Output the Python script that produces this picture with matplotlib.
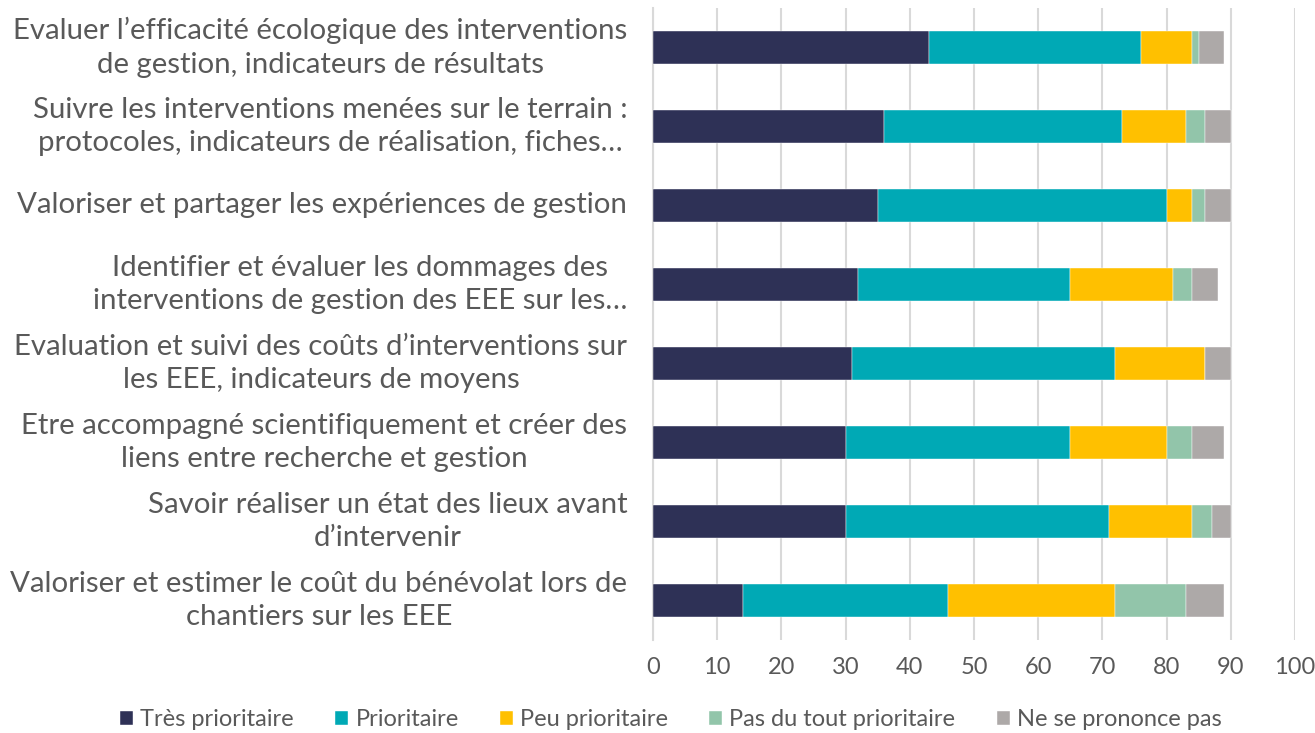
import matplotlib
matplotlib.use("Agg")
import matplotlib.pyplot as plt
import numpy as np

categories = [
    "Evaluer l\u2019efficacité écologique des interventions\nde gestion, indicateurs de résultats",
    "Suivre les interventions menées sur le terrain :\nprotocoles, indicateurs de réalisation, fiches\u2026",
    "Valoriser et partager les expériences de gestion",
    "Identifier et évaluer les dommages des\ninterventions de gestion des EEE sur les\u2026",
    "Evaluation et suivi des coûts d\u2019interventions sur\nles EEE, indicateurs de moyens",
    "Etre accompagné scientifiquement et créer des\nliens entre recherche et gestion",
    "Savoir réaliser un état des lieux avant\nd\u2019intervenir",
    "Valoriser et estimer le coût du bénévolat lors de\nchantiers sur les EEE",
]
series_names = ["Très prioritaire", "Prioritaire", "Peu prioritaire",
                "Pas du tout prioritaire", "Ne se prononce pas"]
tres_prioritaire = [43, 36, 35, 32, 31, 30, 30, 14]
prioritaire = [33, 37, 45, 33, 41, 35, 41, 32]
peu_prioritaire = [8, 10, 4, 16, 14, 15, 13, 26]
pas_du_tout = [1, 3, 2, 3, 0, 4, 3, 11]
ne_se_prononce = [4, 4, 4, 4, 4, 5, 3, 6]
x_ticks = list(range(0, 101, 10))

colors = ["#2E3156", "#00A9B5", "#FFC000", "#92C5AA", "#ADA9A8"]
series = [tres_prioritaire, prioritaire, peu_prioritaire, pas_du_tout, ne_se_prononce]

plt.rcParams['font.family'] = ['Lato', 'DejaVu Sans']
fig = plt.figure(figsize=(13.15, 7.33), dpi=100)
ax = fig.add_axes([653/1315, 1-640/733, (1295-653)/1315, (640-8)/733])

y = np.arange(len(categories))
left = np.zeros(len(categories))
for name, vals, c in zip(series_names, series, colors):
    vals = np.array(vals, dtype=float)
    ax.barh(y, vals, left=left, height=0.41, color=c, label=name,
            edgecolor="white", linewidth=0.3, zorder=3)
    left += vals

ax.set_ylim(len(categories) - 0.5, -0.5)
ax.set_xlim(0, 100)
ax.set_xticks(x_ticks)
ax.set_yticks([])
ax.grid(axis="x", color="#D9D9D9", linewidth=1.5, zorder=0)
for s in ["top", "right", "bottom"]:
    ax.spines[s].set_visible(False)
ax.spines["left"].set_color("#D9D9D9")
ax.spines["left"].set_linewidth(1.5)
ax.tick_params(axis="x", length=0, pad=12, labelsize=17, labelcolor="#595959")

for yi, lab in zip(y, categories):
    ax.text(-4.0, yi, lab, ha="right", va="center", multialignment="center",
            fontsize=21.2, color="#595959", transform=ax.transData, linespacing=1.38)

handles, labels = ax.get_legend_handles_labels()
fig.legend(handles, labels, loc="center", bbox_to_anchor=(671/1315, 1-720/733),
           ncol=5, frameon=False, fontsize=17, labelcolor="#595959",
           handlelength=0.55, handleheight=0.55, handletextpad=0.3, columnspacing=1.75)

fig.savefig("out.png", dpi=100)
